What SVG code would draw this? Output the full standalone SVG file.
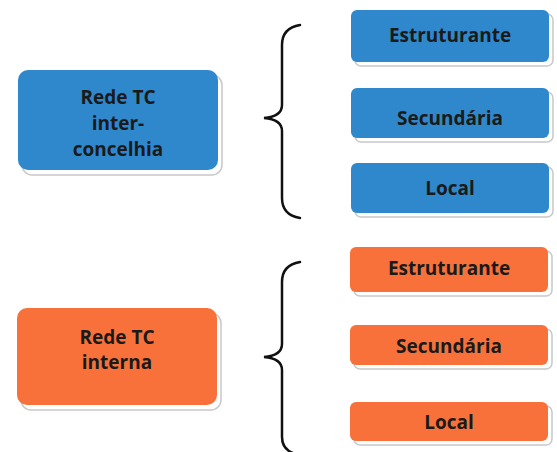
<svg xmlns="http://www.w3.org/2000/svg" width="557" height="452" viewBox="0 0 557 452">
<style>
.bg{fill:#ffffff}
.sh{fill:#ffffff;stroke:#c8c8c8;stroke-width:1.5}
.blue{fill:#2f88cc}
.orange{fill:#f8713a}
.t{font-family:"Open Sans","DejaVu Sans",sans-serif;font-weight:bold;font-size:19px;fill:#1a1a1a;text-anchor:middle;dominant-baseline:central}
.brace{fill:none;stroke:#111;stroke-width:2.5;stroke-linecap:round}
</style>
<rect class="bg" width="557" height="452"/>
<g id="connectors">
<path class="brace" d="M300,25 C288,27 282,33 282,45 L282,105 C282,112 276,117 264,118 C276,119 282,124 282,131 L282,198 C282,210 288,216 300,218"/>
<path class="brace" d="M300,262 C288,264 282,270 282,282 L282,344 C282,351 276,356 264,357 C276,358 282,363 282,370 L282,437 C282,447 288,453 300,455"/>
</g>
<g id="rede-inter">
<rect class="sh" x="22" y="75" width="200" height="100" rx="10"/>
<rect class="blue" x="18" y="70" width="200" height="100" rx="10"/>
<text class="t" x="118" y="97">Rede TC</text>
<text class="t" x="118" y="123">inter-</text>
<text class="t" x="118" y="149">concelhia</text>
</g>
<g id="b-estruturante">
<rect class="sh" x="355" y="14" width="198" height="52" rx="6"/>
<rect class="blue" x="351" y="10" width="198" height="52" rx="6"/>
<text class="t" x="450" y="35">Estruturante</text>
</g>
<g id="b-secundaria">
<rect class="sh" x="355" y="92" width="198" height="50" rx="6"/>
<rect class="blue" x="351" y="88" width="198" height="50" rx="6"/>
<text class="t" x="450" y="118">Secundária</text>
</g>
<g id="b-local">
<rect class="sh" x="355" y="167" width="198" height="50" rx="6"/>
<rect class="blue" x="351" y="163" width="198" height="50" rx="6"/>
<text class="t" x="450" y="188">Local</text>
</g>
<g id="rede-interna">
<rect class="sh" x="21" y="313" width="200" height="97" rx="10"/>
<rect class="orange" x="17" y="308" width="200" height="97" rx="10"/>
<text class="t" x="117" y="337">Rede TC</text>
<text class="t" x="117" y="362">interna</text>
</g>
<g id="o-estruturante">
<rect class="sh" x="354" y="251" width="198" height="45" rx="6"/>
<rect class="orange" x="350" y="247" width="198" height="45" rx="6"/>
<text class="t" x="449" y="268">Estruturante</text>
</g>
<g id="o-secundaria">
<rect class="sh" x="354" y="329" width="198" height="40" rx="6"/>
<rect class="orange" x="350" y="325" width="198" height="40" rx="6"/>
<text class="t" x="449" y="346">Secundária</text>
</g>
<g id="o-local">
<rect class="sh" x="354" y="406" width="198" height="39" rx="6"/>
<rect class="orange" x="350" y="402" width="198" height="39" rx="6"/>
<text class="t" x="449" y="422">Local</text>
</g>
</svg>
